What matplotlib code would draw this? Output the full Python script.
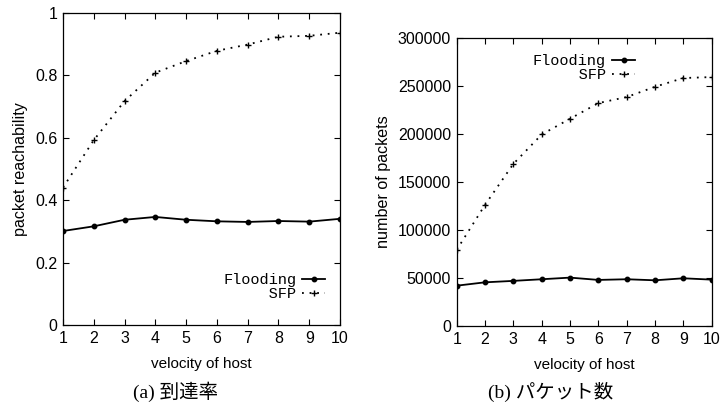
import matplotlib
matplotlib.use("Agg")
import matplotlib.pyplot as plt

velocity = [1, 2, 3, 4, 5, 6, 7, 8, 9, 10]

reach_flooding = [0.301, 0.316, 0.337, 0.346, 0.337, 0.332, 0.330, 0.333, 0.331, 0.340]
reach_sfp = [0.440, 0.592, 0.717, 0.808, 0.845, 0.878, 0.898, 0.923, 0.926, 0.936]

pkt_flooding = [42000, 45500, 47000, 48700, 50400, 48000, 48700, 47600, 49700, 48300]
pkt_sfp = [79300, 126200, 168900, 199500, 215900, 232200, 238500, 249200, 258300, 259300]

reach_ticks = [0, 0.2, 0.4, 0.6, 0.8, 1]
reach_ticklabels = ["0", "0.2", "0.4", "0.6", "0.8", "1"]
pkt_ticks = [0, 50000, 100000, 150000, 200000, 250000, 300000]
pkt_ticklabels = ["0", "50000", "100000", "150000", "200000", "250000", "300000"]

labels = ["Flooding", "     SFP"]
captions = ["(a) 到達率", "(b) パケット数"]

plt.rcParams['font.family'] = ['Liberation Sans', 'DejaVu Sans']

W, H = 722, 409
fig = plt.figure(figsize=(W / 100, H / 100), dpi=100)


def px_axes(l, r, t, b):
    return fig.add_axes([l / W, 1 - b / H, (r - l) / W, (b - t) / H])


ax1 = px_axes(63, 340, 12.7, 325)
ax2 = px_axes(456.7, 711.7, 38, 326)

sfp_style = dict(color='black', linestyle=(0, (1, 3.2)), linewidth=1.3,
                 marker='+', markersize=4, markeredgewidth=1.0)
fl_style = dict(color='black', linestyle='-', linewidth=1.3,
                marker='o', markersize=3.2)


def style(ax, yticks, yticklabels, ylim, ylabel):
    ax.set_xlim(1, 10)
    ax.set_ylim(*ylim)
    ax.set_xticks(velocity)
    ax.set_xticklabels([str(v) for v in velocity])
    ax.set_yticks(yticks)
    ax.set_yticklabels(yticklabels)
    ax.tick_params(direction='in', top=True, right=True, length=4, width=0.8,
                   labelsize=11.5, pad=4)
    for s in ax.spines.values():
        s.set_linewidth(0.9)
    ax.set_xlabel("velocity of host", fontsize=11, labelpad=8)
    ax.set_ylabel(ylabel, fontsize=11.6, labelpad=5)


ax1.plot(velocity, reach_flooding, label=labels[0], **fl_style)
ax1.plot(velocity, reach_sfp, label=labels[1], **sfp_style)
style(ax1, reach_ticks, reach_ticklabels, (0, 1), "packet reachability")

ax2.plot(velocity, pkt_flooding, label=labels[0], **fl_style)
ax2.plot(velocity, pkt_sfp, label=labels[1], **sfp_style)
style(ax2, pkt_ticks, pkt_ticklabels, (0, 300000), "number of packets")

legkw = dict(frameon=False, markerfirst=False, handlelength=1.5, handletextpad=0.4,
             labelspacing=0.0, borderpad=0, borderaxespad=0,
             prop={'family': ['Liberation Mono'], 'size': 11}, loc='center')
ax1.legend(bbox_to_anchor=(0.762, 0.122), **legkw)
ax2.legend(bbox_to_anchor=(0.499, 0.896), **legkw)

capfont = ['Liberation Serif', 'Noto Sans CJK JP']
fig.text(176 / W, 1 - 392 / H, captions[0], ha='center', va='center',
         fontsize=14, family=capfont)
fig.text(551 / W, 1 - 392 / H, captions[1], ha='center', va='center',
         fontsize=14, family=capfont)

fig.savefig("out.png", dpi=100, facecolor='white')
